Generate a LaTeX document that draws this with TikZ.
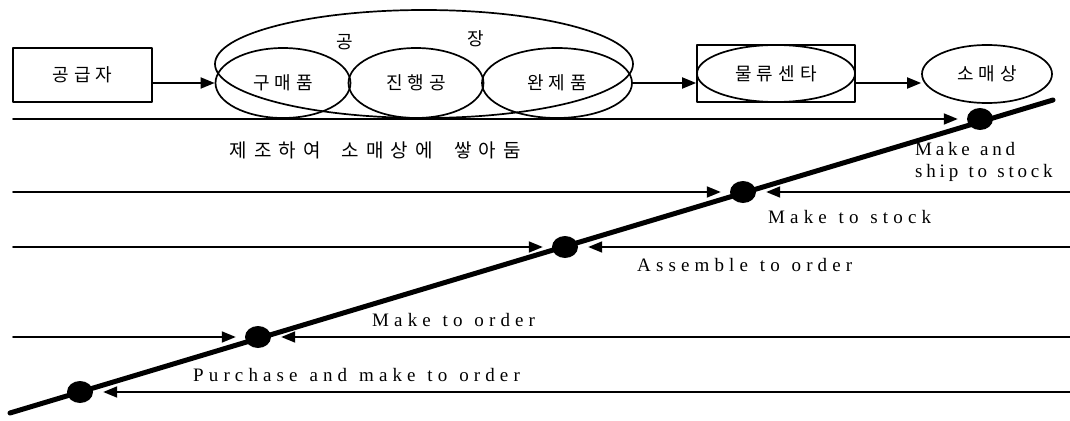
\documentclass[tikz,border=0pt]{standalone}
\usepackage{fontspec}
\setmainfont{Liberation Serif}
\newfontfamily\krfont[LetterSpace=28]{Noto Sans CJK KR}
\newfontfamily\krcapfont[LetterSpace=37,WordSpace=1.9]{Noto Sans CJK KR}
\newfontfamily\enfont[LetterSpace=27,WordSpace=1.2]{Liberation Serif}
\newfontfamily\enfonttight[LetterSpace=20,WordSpace=1.2]{Liberation Serif}
\usetikzlibrary{arrows.meta,shapes.geometric}
\tikzset{
  >={Triangle[length=14pt,width=11pt]},
  every picture/.style={line cap=round, line join=round},
  krlbl/.style={font=\krfont\fontsize{18}{20}\selectfont, text=black},
  krcap/.style={font=\krcapfont\fontsize{19}{22}\selectfont, text=black},
  enlbl/.style={font=\enfont\fontsize{19}{22}\selectfont, text=black, inner sep=0pt},
  box/.style={draw, line width=1.7pt, inner sep=0pt},
  oval/.style={draw, ellipse, line width=1.7pt, inner sep=0pt},
  flow/.style={line width=1.8pt, ->},
  axle/.style={line width=5pt},
  ptdot/.style={fill, ellipse, minimum width=26pt, minimum height=22pt, inner sep=0pt},
}

\begin{document}
\begin{tikzpicture}[x=1pt, y=-1pt]
\useasboundingbox (0,0) rectangle (1070,420);
% chain along the top
\node[box, krlbl, minimum width=139pt, minimum height=54pt] (sup) at (82.5,75) {공급자};
\node[oval, minimum width=418pt, minimum height=108pt] (fac) at (424,64) {};
\node[oval, krlbl, minimum width=135pt, minimum height=70pt] (pur) at (283,83) {구매품};
\node[oval, krlbl, minimum width=135pt, minimum height=70pt] (wip) at (416,83) {진행공};
\node[oval, krlbl, minimum width=150pt, minimum height=70pt] (fin) at (557,83) {완제품};
\node[krlbl] (facA) at (345,42) {공};
\node[krlbl] (facB) at (476,39) {장};
\node[box, minimum width=158pt, minimum height=57pt] (dc) at (776,73.5) {};
\node[oval, krlbl, minimum width=158pt, minimum height=57pt] (dcin) at (dc) {물류센타};
\node[oval, krlbl, minimum width=130pt, minimum height=58pt] (ret) at (987,74) {소매상};
\draw[flow] (sup.east |- pur.west) -- (pur.west);
\draw[flow] (fin.east) -- (dc.west |- fin.east);
\draw[flow] (dc.east |- fin.east) -- (ret.west |- fin.east);
% decoupling line and its points
\coordinate (axS) at (10,413);
\coordinate (axE) at (1053,100);
\draw[axle] (axS) -- (axE);
\node[ptdot] (dShip) at (980,119) {};
\node[ptdot] (dStock) at (743,192) {};
\node[ptdot] (dAsm) at (565,247) {};
\node[ptdot] (dMto) at (258,337) {};
\node[ptdot] (dPur) at (80,392) {};
% push from the left, pull from the right
\coordinate (inShip) at (13,119);
\coordinate (inStock) at (13,192);
\coordinate (inAsm) at (13,247);
\coordinate (inMto) at (13,337);
\coordinate (rStock) at (1072,192);
\coordinate (rAsm) at (1072,247);
\coordinate (rMto) at (1072,337);
\coordinate (rPur) at (1072,392);
\draw[flow, shorten >=9pt] (inShip) -- (dShip);
\foreach \p in {Stock,Asm,Mto} {
  \draw[flow, shorten >=9pt] (in\p) -- (d\p);
}
\foreach \p in {Stock,Asm,Mto,Pur} {
  \draw[flow, shorten >=10pt] (r\p) -- (d\p);
}
% labels
\node[krcap, anchor=west] (lKr) at (226,150) {제조하여 소매상에 쌓아둠};
\node[enlbl, font=\enfonttight\fontsize{19}{22}\selectfont, anchor=north west, align=left] (lShip) at (915,142) {Make and\\ship to stock};
\node[enlbl, anchor=base west] (lStock) at (768,223) {Make to stock};
\node[enlbl, anchor=base west] (lAsm) at (637,271) {Assemble to order};
\node[enlbl, anchor=base west] (lMto) at (372,326) {Make to order};
\node[enlbl, anchor=base west] (lPur) at (193,381) {Purchase and make to order};
\end{tikzpicture}
\end{document}
